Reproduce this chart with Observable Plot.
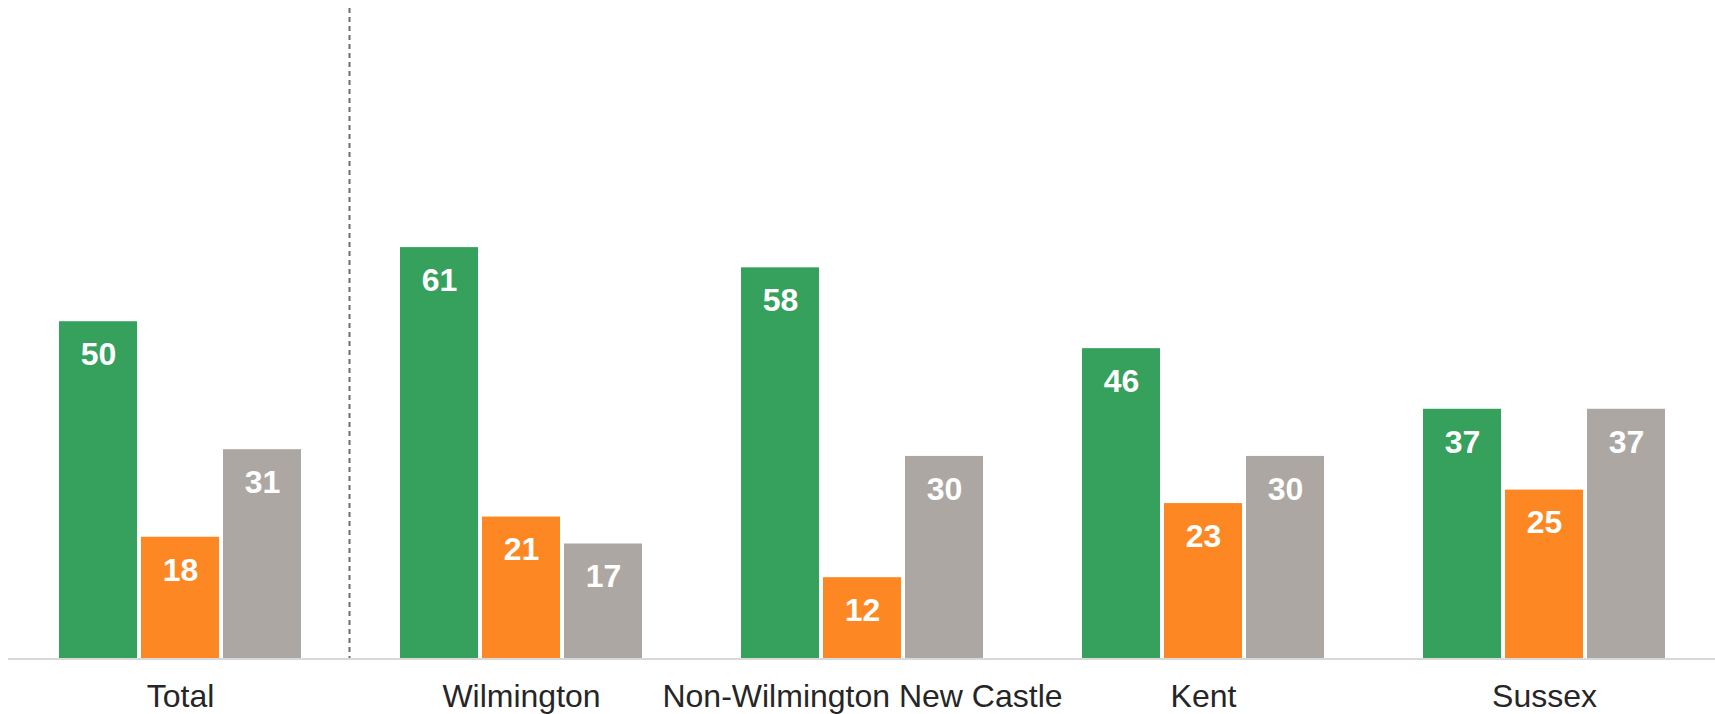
<!DOCTYPE html>
<html>
<head>
<meta charset="utf-8">
<script src="https://cdn.jsdelivr.net/npm/d3@7"></script>
<script src="https://cdn.jsdelivr.net/npm/@observablehq/plot@0.6"></script>
<style>
  html, body { margin: 0; padding: 0; background: #fff; }
  #chart { width: 1715px; height: 714px; }
</style>
</head>
<body>
<div id="chart"></div>
<script>
const groups = ["Total", "Wilmington", "Non-Wilmington New Castle", "Kent", "Sussex"];
const series = ["A", "B", "C"];
const seriesColors = ["#35A15D", "#FD8723", "#ACA7A2"];
const valuesA = [50, 61, 58, 46, 37];
const valuesB = [18, 21, 12, 23, 25];
const valuesC = [31, 17, 30, 30, 37];

const seriesValues = [valuesA, valuesB, valuesC];
const data = [];
groups.forEach((g, i) => {
  series.forEach((s, j) => data.push({group: g, series: s, value: seriesValues[j][i]}));
});

const W = 1715, H = 714;
const chart = Plot.plot({
  width: W,
  height: H,
  marginLeft: 9,
  marginRight: 0,
  marginTop: 8,
  marginBottom: 56,
  style: {fontFamily: "'Liberation Sans', Arial, sans-serif", fontSize: "32px", color: "#262626", background: "#fff"},
  fx: {domain: groups, paddingInner: 0.285, paddingOuter: 0.14, axis: "bottom", tickSize: 0, tickPadding: 26, label: null},
  x: {domain: series, paddingInner: 0.05, paddingOuter: 0, axis: null},
  y: {domain: [0, 96.5], axis: null},
  color: {domain: series, range: seriesColors},
  marks: [
    Plot.barY(data, {fx: "group", x: "series", y: "value", fill: "series"}),
    Plot.text(data, {fx: "group", x: "series", y: "value", text: d => String(d.value), dy: 33, lineAnchor: "middle", fill: "white", fontWeight: "bold", fontSize: 32})
  ]
});
document.getElementById("chart").appendChild(chart);

// baseline and divider drawn from the plot's own scales
const svg = d3.select(chart);
const fx = chart.scale("fx");
const y = chart.scale("y");
const fxApply = fx.apply ? fx.apply : (v) => {
  const s = d3.scaleBand(fx.domain, fx.range).paddingInner(fx.paddingInner).paddingOuter(fx.paddingOuter).align(fx.align ?? 0.5);
  return s(v);
};
const bw = fx.bandwidth;
const yApply = y.apply ? y.apply : d3.scaleLinear(y.domain, y.range);
const y0 = yApply(0);
const yTop = yApply(y.domain[1]);
svg.append("line")
  .attr("x1", 8).attr("x2", W)
  .attr("y1", y0 + 1).attr("y2", y0 + 1)
  .attr("stroke", "#d9d9d9").attr("stroke-width", 2);
const xDiv = (fxApply(groups[0]) + bw + fxApply(groups[1])) / 2 - 1;
svg.append("line")
  .attr("x1", xDiv).attr("x2", xDiv)
  .attr("y1", yTop).attr("y2", y0)
  .attr("stroke", "#6e6e6e").attr("stroke-width", 2).attr("stroke-dasharray", "5,4");
</script>
</body>
</html>
